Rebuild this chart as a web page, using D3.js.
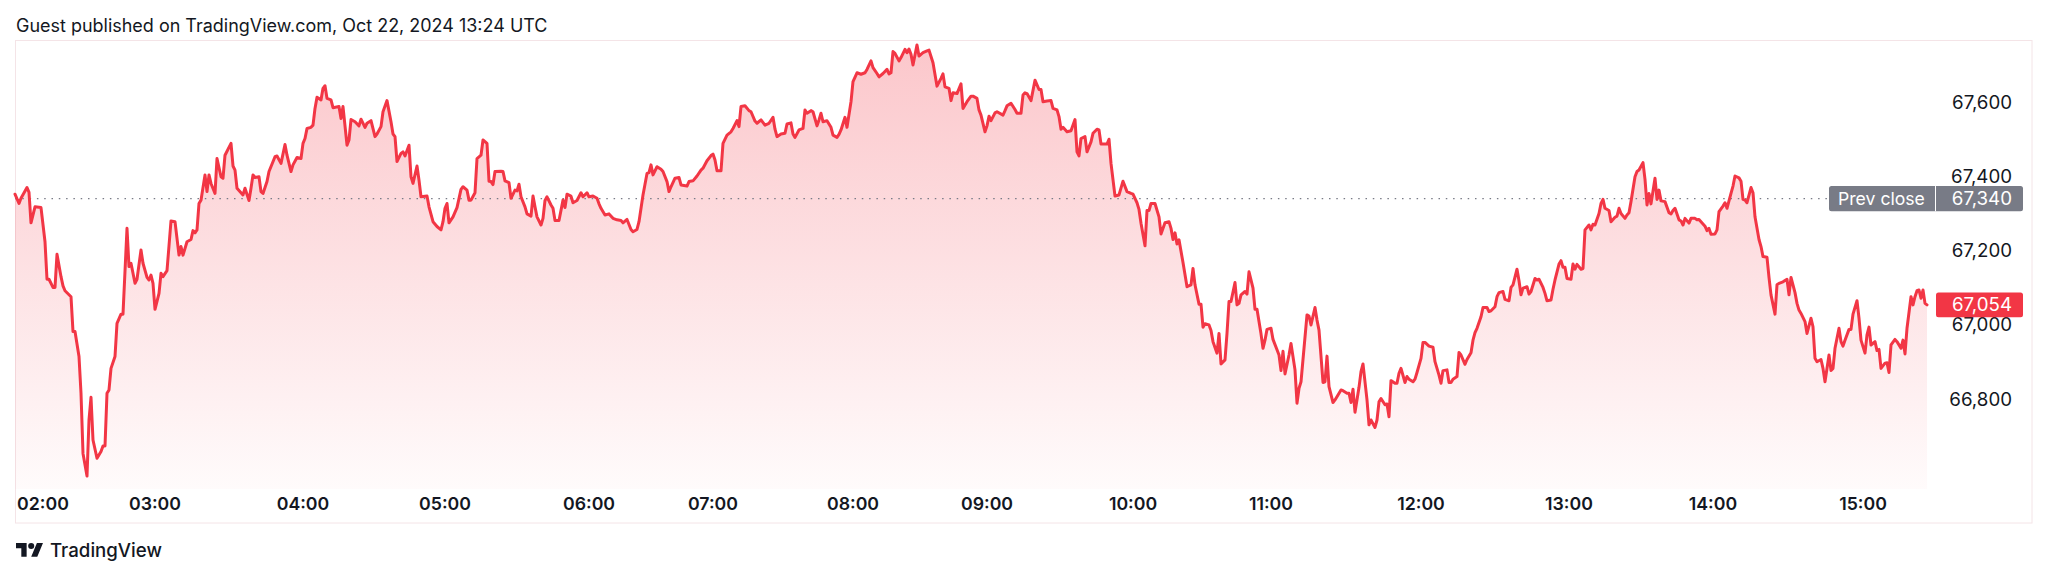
<!DOCTYPE html>
<html><head><meta charset="utf-8">
<script src="https://cdn.jsdelivr.net/npm/d3@7"></script>
<style>html,body{margin:0;padding:0;background:#fff;overflow:hidden}svg{display:block}</style>
</head><body>
<svg id="chart" width="2048" height="577"></svg>
<script>
// ---------- DATA ----------
const titleText = "Guest published on TradingView.com, Oct 22, 2024 13:24 UTC";
const brandText = "TradingView";
const prevCloseLabel = "Prev close";
const prevClose = 67340;
const lastPrice = 67054;
const yTickValues = [66800, 67000, 67200, 67400, 67600];
const timeTickLabels = ["02:00","03:00","04:00","05:00","06:00","07:00","08:00","09:00","10:00","11:00","12:00","13:00","14:00","15:00"];
const timeTickBars   = [14, 70, 144, 215, 287, 349, 419, 486, 559, 628, 703, 777, 849, 924];
// [bar index, price]
const priceSeries = [
[0,67352],[2,67327],[3,67341],[6,67370],[7,67357],[8,67275],[10,67318],[13,67316],[15,67224],[16,67123],[17,67123],[19,67101],[20,67101],[21,67190],[23,67130],[24,67105],[25,67092],[28,67076],[29,66982],[30,66982],[32,66915],[33,66816],[34,66654],[36,66593],[37,66744],[38,66805],[39,66690],[41,66641],[43,66659],[44,66674],[45,66674],[46,66816],[47,66825],[48,66883],[50,66915],[51,67004],[53,67029],[54,67029],[56,67260],[57,67157],[58,67166],[60,67112],[61,67123],[63,67202],[64,67166],[66,67128],[67,67121],[68,67134],[69,67112],[70,67042],[72,67085],[73,67139],[74,67130],[76,67146],[78,67280],[80,67278],[82,67188],[83,67211],[84,67188],[86,67224],[88,67230],[89,67254],[90,67248],[91,67256],[92,67327],[93,67336],[95,67404],[96,67359],[97,67404],[98,67381],[100,67354],[101,67448],[103,67399],[104,67395],[105,67457],[108,67489],[109,67428],[110,67417],[111,67368],[114,67350],[115,67368],[117,67335],[118,67368],[119,67404],[120,67397],[122,67399],[123,67359],[124,67354],[126,67386],[127,67413],[130,67453],[131,67455],[133,67435],[135,67486],[136,67457],[138,67413],[139,67431],[141,67451],[143,67448],[144,67489],[145,67502],[146,67529],[148,67532],[149,67538],[150,67583],[151,67613],[153,67606],[154,67637],[155,67644],[156,67610],[158,67606],[159,67585],[162,67588],
[163,67556],[164,67588],[166,67484],[167,67498],[168,67553],[170,67547],[172,67536],[173,67554],[175,67532],[176,67543],[178,67550],[180,67507],[181,67514],[183,67534],[184,67574],[186,67604],[188,67547],[189,67514],[190,67507],[191,67440],[193,67462],[194,67466],[195,67455],[197,67484],[198,67399],[199,67381],[201,67428],[202,67390],[203,67345],[206,67347],[207,67318],[209,67278],[211,67265],[213,67256],[214,67278],[215,67314],[216,67327],[217,67275],[219,67291],[221,67316],[223,67365],[224,67372],[226,67363],[227,67336],[228,67336],[230,67356],[231,67448],[233,67457],[234,67498],[236,67489],[237,67387],[238,67386],[239,67378],[240,67413],[243,67414],[244,67413],[245,67388],[247,67383],[248,67341],[250,67363],[251,67361],[252,67379],[253,67345],[255,67318],[256,67299],[258,67293],[259,67347],[260,67318],[261,67291],[263,67269],[264,67287],[265,67335],[266,67345],[268,67323],[269,67314],[270,67281],[272,67281],[274,67336],[275,67316],[276,67352],[278,67347],[279,67329],[281,67335],[283,67356],[284,67345],[286,67356],[287,67345],[289,67347],[291,67341],[292,67326],[293,67314],[295,67296],[297,67299],[299,67287],[301,67283],[303,67281],[304,67275],[306,67284],[308,67257],[309,67251],[311,67257],[312,67278],[314,67350],[316,67408],[317,67410],[318,67431],[319,67404],[321,67426],
[323,67419],[324,67413],[326,67386],[327,67359],[328,67372],[330,67395],[332,67397],[333,67377],[336,67374],[337,67386],[339,67388],[341,67401],[343,67417],[344,67422],[346,67442],[348,67456],[349,67460],[350,67444],[351,67415],[353,67415],[354,67489],[356,67511],[358,67520],[359,67529],[361,67550],[362,67534],[363,67588],[365,67590],[367,67577],[368,67574],[370,67549],[371,67543],[373,67552],[375,67538],[377,67543],[379,67559],[380,67527],[381,67507],[383,67514],[385,67516],[386,67541],[388,67544],[389,67514],[390,67505],[392,67525],[394,67529],[395,67579],[396,67570],[398,67577],[399,67574],[401,67536],[402,67552],[403,67570],[404,67547],[406,67550],[408,67532],[409,67511],[411,67505],[412,67513],[413,67525],[415,67559],[416,67532],[418,67601],[419,67655],[421,67679],[423,67675],[425,67679],[426,67688],[428,67711],[429,67693],[431,67677],[432,67668],[434,67677],[436,67688],[437,67676],[438,67679],[439,67736],[440,67731],[442,67711],[443,67720],[445,67742],[446,67733],[447,67743],[448,67729],[449,67700],[451,67754],[452,67724],[454,67733],[456,67738],[457,67740],[459,67706],[461,67643],[463,67664],[464,67676],[465,67641],[467,67637],[468,67604],[469,67625],[471,67623],[473,67649],[474,67583],[476,67601],[478,67616],[479,67616],[481,67610],[482,67579],
[483,67565],[485,67520],[486,67536],[487,67562],[488,67550],[490,67571],[491,67574],[494,67565],[495,67577],[496,67590],[498,67597],[500,67580],[501,67570],[503,67570],[504,67619],[505,67625],[506,67623],[508,67604],[510,67659],[512,67634],[513,67634],[514,67601],[516,67603],[518,67604],[519,67583],[521,67579],[522,67561],[523,67527],[524,67532],[526,67520],[528,67523],[530,67553],[531,67466],[532,67455],[533,67502],[535,67507],[536,67466],[538,67493],[539,67516],[541,67527],[542,67525],[543,67487],[546,67487],[547,67500],[548,67435],[550,67347],[552,67350],[554,67387],[556,67359],[558,67354],[559,67352],[561,67329],[562,67311],[563,67274],[565,67213],[566,67308],[567,67308],[568,67327],[570,67327],[572,67291],[573,67245],[575,67275],[577,67278],[578,67260],[579,67230],[580,67248],[581,67218],[582,67229],[584,67168],[586,67103],[588,67108],[589,67152],[590,67108],[592,67056],[593,67056],[594,66994],[595,67003],[597,67000],[598,66985],[599,66955],[601,66924],[602,66977],[603,66895],[605,66906],[606,66977],[607,67063],[608,67063],[610,67114],[611,67054],[612,67058],[613,67081],[615,67090],[616,67083],[617,67143],[619,67099],[620,67042],[621,67042],[623,66976],[624,66937],[625,66959],[626,66988],[628,66991],[629,66961],[631,66933],[632,66919],[633,66877],[634,66929],[635,66868],[637,66919],[638,66950],[640,66879],[641,66789],[642,66829],
[643,66847],[646,67027],[647,67024],[648,67000],[650,67047],[651,67013],[652,66986],[654,66845],[655,66847],[656,66916],[657,66834],[659,66791],[660,66798],[663,66825],[664,66823],[666,66816],[667,66816],[668,66791],[669,66827],[670,66765],[672,66832],[673,66874],[674,66895],[676,66798],[677,66731],[678,66744],[680,66724],[681,66744],[682,66793],[683,66802],[685,66785],[686,66787],[687,66753],[688,66850],[690,66843],[691,66843],[692,66870],[693,66883],[695,66845],[696,66861],[697,66854],[699,66847],[700,66854],[701,66872],[703,66910],[704,66953],[705,66953],[707,66943],[709,66940],[710,66901],[712,66865],[713,66843],[714,66877],[716,66879],[717,66845],[718,66845],[719,66854],[721,66861],[722,66926],[723,66919],[725,66894],[726,66907],[728,66925],[729,66959],[730,66979],[731,66991],[733,67022],[734,67047],[736,67047],[737,67036],[738,67038],[740,67049],[741,67076],[742,67087],[744,67090],[745,67069],[747,67065],[748,67101],[749,67108],[751,67150],[752,67119],[753,67081],[754,67099],[756,67103],[757,67083],[758,67090],[760,67125],[761,67121],[762,67123],[764,67101],[765,67085],[766,67065],[768,67067],[769,67096],[770,67121],[772,67164],[773,67173],[774,67155],[775,67155],[776,67125],[778,67123],[779,67164],[780,67150],[781,67163],[783,67150],[784,67152],[785,67256],[787,67269],[788,67256],[789,67271],[790,67269],[792,67300],[793,67327],[794,67338],[795,67314],[797,67308],[798,67278],[800,67290],[801,67293],[802,67314],
[803,67300],[805,67287],[806,67296],[807,67302],[808,67332],[810,67399],[811,67413],[812,67417],[814,67437],[815,67392],[816,67323],[817,67354],[818,67326],[820,67395],[821,67338],[822,67363],[823,67334],[825,67332],[827,67302],[828,67299],[829,67308],[830,67314],[832,67283],[833,67280],[834,67269],[835,67287],[837,67274],[838,67287],[840,67287],[841,67283],[842,67284],[843,67278],[845,67266],[846,67254],[847,67260],[848,67244],[850,67245],[851,67256],[852,67305],[854,67320],[855,67329],[856,67314],[858,67354],[859,67374],[860,67401],[862,67396],[863,67387],[864,67338],[865,67336],[866,67329],[868,67370],[869,67356],[870,67291],[872,67230],[873,67211],[874,67184],[876,67182],[877,67128],[878,67081],[880,67029],[881,67108],[882,67112],[883,67114],[884,67116],[886,67123],[887,67081],[888,67128],[890,67087],[891,67058],[892,67040],[893,67031],[895,67009],[896,66977],[898,67018],[899,66995],[900,66910],[901,66901],[903,66907],[904,66883],[905,66847],[907,66919],[908,66877],[909,66883],[910,66937],[912,66991],[913,66955],[914,66943],[915,66959],[917,66988],[918,66988],[919,67029],[921,67065],[922,67018],[923,66959],[925,66924],[926,66973],[927,66994],[928,66946],[930,66955],[931,66931],[932,66934],[933,66883],[935,66897],[936,66898],[937,66872],[938,66946],[940,66961],[941,66955],[943,66937],[944,66959],[945,66922],[946,66991],[948,67076],[949,67054],[950,67076],[951,67092],[952,67094],[953,67072],[954,67094],[955,67058],[956,67054]
];

// ---------- LAYOUT ----------
const FONT = "Inter, Roboto, 'Noto Sans', sans-serif";
const TEXT = "#131722";
const RED = "#f23645";
const GREY = "#787b86";
const frame = {left: 15.5, top: 40.5, right: 2032, bottom: 523};
const plotLeft = 15, plotRight = 1927, plotBottom = 489;
const scaleX = 1936, labelRight = 2012, labelBoxRight = 2023;

const svg = d3.select("#chart");

function fitFont(text, weight, target) {
  const t = svg.append("text").attr("font-family", FONT).attr("font-weight", weight)
    .attr("font-size", 100).text(text);
  const w = t.node().getComputedTextLength();
  t.remove();
  return 100 * target / w;
}

const x = d3.scaleLinear()
  .domain([0, d3.max(priceSeries, d => d[0])])
  .range([plotLeft, plotRight]);
const y = d3.scaleLinear()
  .domain([66800, 67600])
  .range([399.2, 102.1]);

// frame
svg.append("rect")
  .attr("x", frame.left).attr("y", frame.top)
  .attr("width", frame.right - frame.left).attr("height", frame.bottom - frame.top)
  .attr("fill", "none").attr("stroke", "#f4e4e7").attr("stroke-width", 1);

// gradient
const maxP = d3.max(priceSeries, d => d[1]);
const defs = svg.append("defs");
const grad = defs.append("linearGradient").attr("id", "areaGrad")
  .attr("gradientUnits", "userSpaceOnUse")
  .attr("x1", 0).attr("x2", 0).attr("y1", y(maxP)).attr("y2", plotBottom);
grad.append("stop").attr("offset", 0).attr("stop-color", RED).attr("stop-opacity", 0.28);
grad.append("stop").attr("offset", 1).attr("stop-color", RED).attr("stop-opacity", 0.02);

svg.append("path")
  .datum(priceSeries)
  .attr("fill", "url(#areaGrad)")
  .attr("d", d3.area().x(d => x(d[0])).y0(plotBottom).y1(d => y(d[1])));

// prev close dotted line
svg.append("line")
  .attr("x1", plotLeft).attr("x2", 1829)
  .attr("y1", y(prevClose)).attr("y2", y(prevClose))
  .attr("stroke", GREY).attr("stroke-width", 1.3)
  .attr("stroke-dasharray", "1.5 5.8");

// price line
svg.append("path")
  .datum(priceSeries)
  .attr("fill", "none").attr("stroke", RED).attr("stroke-width", 3)
  .attr("stroke-linejoin", "round").attr("stroke-linecap", "round")
  .attr("d", d3.line().x(d => x(d[0])).y(d => y(d[1])));

// y axis labels
const fmt = d3.format(",");
const ySize = fitFont("67,600", 400, 60);
svg.append("g").selectAll("text").data(yTickValues).join("text")
  .attr("x", labelRight).attr("y", d => y(d))
  .attr("text-anchor", "end").attr("dominant-baseline", "central")
  .attr("font-family", FONT).attr("font-size", ySize).attr("fill", TEXT)
  .text(d => fmt(d));

// prev close label
const pcY = y(prevClose);
svg.append("rect").attr("x", 1829).attr("y", pcY - 12.6)
  .attr("width", labelBoxRight - 1829).attr("height", 25.2).attr("rx", 2.5).attr("fill", GREY);
svg.append("line").attr("x1", 1935.5).attr("x2", 1935.5).attr("y1", pcY - 12.6).attr("y2", pcY + 12.6)
  .attr("stroke", "#ffffff").attr("stroke-width", 1);
svg.append("text").attr("x", 1838).attr("y", pcY).attr("dominant-baseline", "central")
  .attr("font-family", FONT).attr("font-size", fitFont(prevCloseLabel, 400, 87)).attr("fill", "#ffffff")
  .text(prevCloseLabel);
svg.append("text").attr("x", labelRight).attr("y", pcY).attr("text-anchor", "end").attr("dominant-baseline", "central")
  .attr("font-family", FONT).attr("font-size", ySize).attr("fill", "#ffffff").text(fmt(prevClose));

// last price label
const lpY = y(lastPrice);
svg.append("rect").attr("x", scaleX).attr("y", lpY - 12.4)
  .attr("width", labelBoxRight - scaleX).attr("height", 24.8).attr("rx", 2.5).attr("fill", RED);
svg.append("text").attr("x", labelRight).attr("y", lpY).attr("text-anchor", "end").attr("dominant-baseline", "central")
  .attr("font-family", FONT).attr("font-size", ySize).attr("fill", "#ffffff").text(fmt(lastPrice));

// x axis labels
const xSize = fitFont("03:00", 600, 52);
svg.append("g").selectAll("text").data(timeTickLabels).join("text")
  .attr("x", (d, i) => x(timeTickBars[i])).attr("y", 503)
  .attr("text-anchor", "middle").attr("dominant-baseline", "central")
  .attr("font-family", FONT).attr("font-weight", 600).attr("font-size", xSize).attr("fill", TEXT)
  .text(d => d);

// title
svg.append("text").attr("x", 16).attr("y", 25).attr("dominant-baseline", "central")
  .attr("font-family", FONT).attr("font-size", fitFont(titleText, 400, 532)).attr("fill", TEXT)
  .text(titleText);

// brand logo
const logo = svg.append("g").attr("transform", "translate(16,540) scale(0.76)").attr("fill", TEXT);
logo.append("path").attr("d", "M14 22H7V11H0V4h14v18zM28 22h-8l7.5-18h8L28 22z");
logo.append("circle").attr("cx", 20).attr("cy", 8).attr("r", 4);
svg.append("text").attr("x", 50).attr("y", 550).attr("dominant-baseline", "central")
  .attr("font-family", FONT).attr("font-weight", 500).attr("font-size", fitFont(brandText, 500, 112)).attr("fill", TEXT)
  .text(brandText);
</script>
</body></html>
